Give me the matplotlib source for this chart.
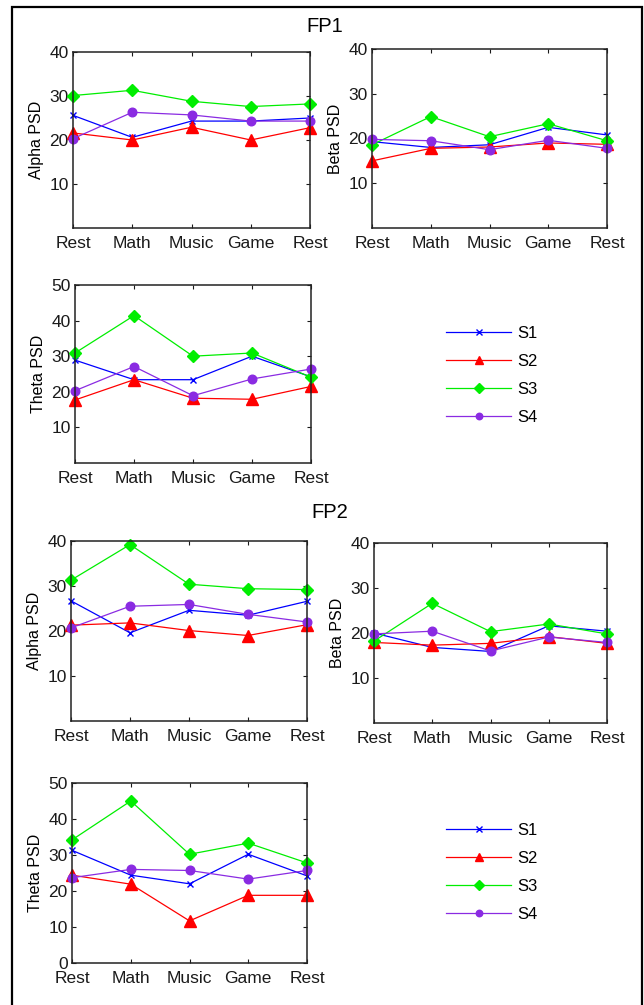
import matplotlib
matplotlib.use("Agg")
import matplotlib.pyplot as plt
from matplotlib.lines import Line2D
from matplotlib.patches import Rectangle

plt.rcParams['font.family'] = ['Liberation Sans', 'DejaVu Sans']

W, H = 644, 1005

tasks = ["Rest", "Math", "Music", "Game", "Rest"]
subjects = ["S1", "S2", "S3", "S4"]

# PSD per subject (rows S1..S4) for each task
fp1_alpha = [[25.6, 20.6, 24.3, 24.3, 25.0],
             [21.6, 20.0, 22.9, 20.0, 22.8],
             [30.1, 31.3, 28.8, 27.6, 28.2],
             [20.3, 26.3, 25.7, 24.3, 24.3]]
fp1_beta = [[19.3, 18.0, 18.6, 22.5, 20.8],
            [15.0, 17.8, 18.1, 19.0, 18.7],
            [18.6, 24.9, 20.4, 23.3, 19.5],
            [19.8, 19.5, 17.5, 19.6, 17.8]]
fp1_theta = [[28.9, 23.4, 23.4, 30.0, 24.2],
             [17.7, 23.4, 18.2, 17.9, 21.5],
             [30.9, 41.4, 30.0, 30.9, 24.1],
             [20.3, 27.1, 18.9, 23.6, 26.4]]
fp2_alpha = [[26.7, 19.6, 24.6, 23.5, 26.6],
             [21.3, 21.8, 20.1, 19.0, 21.4],
             [31.3, 39.2, 30.4, 29.4, 29.2],
             [20.7, 25.5, 25.9, 23.7, 22.0]]
fp2_beta = [[20.0, 16.8, 15.9, 21.6, 20.4],
            [17.9, 17.3, 17.7, 19.2, 17.7],
            [18.2, 26.6, 20.3, 22.0, 19.8],
            [19.8, 20.4, 16.0, 19.1, 17.9]]
fp2_theta = [[31.3, 24.4, 22.0, 30.2, 24.2],
             [24.4, 21.9, 11.7, 18.8, 18.8],
             [34.2, 45.0, 30.2, 33.3, 27.8],
             [23.7, 26.0, 25.7, 23.3, 25.7]]

colors = ["#0000FF", "#FF0000", "#00EE00", "#8A2BE2"]
markers = ["x", "^", "D", "o"]
msizes = [5, 8, 6.5, 6.2]

fig = plt.figure(figsize=(W / 100, H / 100), dpi=100)


def px_axes(l, t, r, b):
    return fig.add_axes([l / W, 1 - b / H, (r - l) / W, (b - t) / H])


def panel(ax, data, ylabel, yticks, ymax):
    x = range(1, len(tasks) + 1)
    for vals, c, m, ms in zip(data, colors, markers, msizes):
        ax.plot(x, vals, color=c, lw=0.9, marker=m, ms=ms, mew=1.0,
                mfc=c, mec=c, clip_on=False)
    ax.set_xlim(1, 5)
    ax.set_ylim(0, ymax)
    ax.set_xticks(list(x))
    ax.set_xticklabels(tasks)
    ax.set_yticks(yticks)
    ax.set_ylabel(ylabel, fontsize=11.5, labelpad=4)
    ax.tick_params(direction="in", top=True, right=True, length=3,
                   width=0.8, labelsize=12.5, colors="#1a1a1a")
    ax.tick_params(axis="x", pad=6)
    ax.tick_params(axis="y", pad=3)
    for s in ax.spines.values():
        s.set_linewidth(1.1)
        s.set_color("#222222")


panel(px_axes(73, 52, 310, 228), fp1_alpha, "Alpha PSD", [10, 20, 30, 40], 40)
panel(px_axes(372, 49, 607, 228), fp1_beta, "Beta PSD", [10, 20, 30, 40], 40)
panel(px_axes(75, 285, 311, 463), fp1_theta, "Theta PSD", [10, 20, 30, 40, 50], 50)
panel(px_axes(71, 541, 307, 721), fp2_alpha, "Alpha PSD", [10, 20, 30, 40], 40)
panel(px_axes(374, 543, 607, 723), fp2_beta, "Beta PSD", [10, 20, 30, 40], 40)
panel(px_axes(72, 783, 307, 963), fp2_theta, "Theta PSD", [0, 10, 20, 30, 40, 50], 50)

fig.text(325 / W, 1 - 27 / H, "FP1", fontsize=14.5, ha="center", va="center")
fig.text(330 / W, 1 - 512 / H, "FP2", fontsize=14.5, ha="center", va="center")

handles = [Line2D([], [], color=c, lw=0.9, marker=m, ms=ms * 0.75, mfc=c, mec=c)
           for c, m, ms in zip(colors, markers, msizes)]
for yc in (375, 872):
    fig.legend(handles, subjects, loc="center left",
               bbox_to_anchor=(446 / W, 1 - yc / H), frameon=False,
               fontsize=12, handlelength=3.9, handletextpad=0.4,
               labelspacing=0.78, borderpad=0, borderaxespad=0,
               numpoints=1)

# outer frame
fig.patches.append(Rectangle((12 / W, -0.01), (642 - 12) / W, 1.01 - 7 / H,
                             transform=fig.transFigure, fill=False,
                             lw=1.6, ec="black"))

fig.savefig("out.png", dpi=100)
